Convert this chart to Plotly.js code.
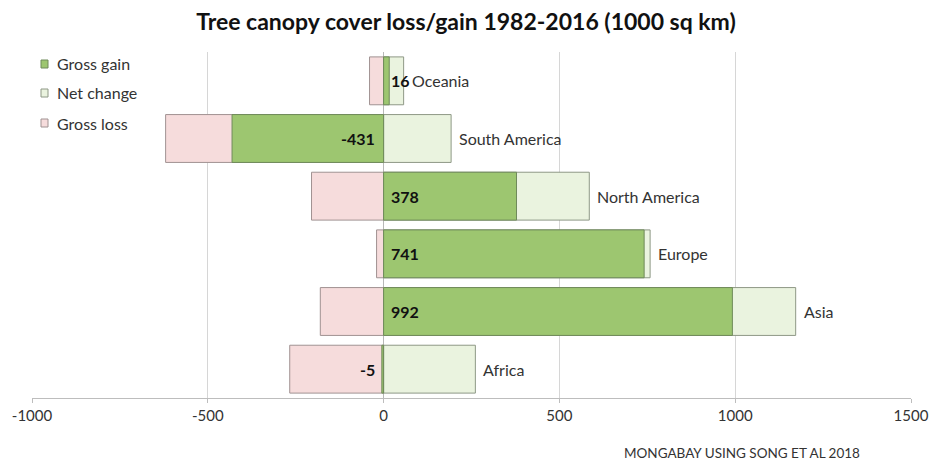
<!DOCTYPE html>
<html>
<head>
<meta charset="utf-8">
<script src="https://cdn.plot.ly/plotly-3.0.1.min.js"></script>
<style>html,body{margin:0;padding:0;background:#fff;}#chart{width:932px;height:461px;}</style>
</head>
<body>
<div id="chart"></div>
<script>
// Data (1000 sq km)
const regions = ["Oceania", "South America", "North America", "Europe", "Asia", "Africa"];
const grossLoss = [-40, -620, -205, -20, -180, -267];
const grossGain = [57, 192, 585, 758, 1172, 261];
const netChange = [16, -431, 378, 741, 992, -5];
// legend labels as printed in the reference (top to bottom)
const legendLabels = ["Gross gain", "Net change", "Gross loss"];
const tickValues = [-1000, -500, 0, 500, 1000, 1500];
const tickLabels = ["-1000", "-500", "0", "500", "1000", "1500"];

const FONT = "Lato, 'Open Sans', sans-serif";
const barW = 0.83;
const W = 932, H = 461;
const M = {l: 32, r: 21, t: 52, b: 63};
const PW = W - M.l - M.r, PH = H - M.t - M.b;
const px2x = p => (p - M.l) / PW;
const py2y = p => (H - M.b - p) / PH;

const colors = {net: "#9dc670", gain: "#eaf3df", loss: "#f6dcdc"};
const lines = {net: "#6f8a5a", gain: "#8e9886", loss: "#a09292"};

const traces = [
  {type: "bar", orientation: "h", y: regions, x: grossLoss, name: legendLabels[2],
   width: barW, marker: {color: colors.loss, line: {color: lines.loss, width: 1}},
   showlegend: false, hoverinfo: "skip"},
  {type: "bar", orientation: "h", y: regions, x: grossGain, name: legendLabels[1],
   width: barW, marker: {color: colors.gain, line: {color: lines.gain, width: 1}},
   showlegend: false, hoverinfo: "skip"},
  {type: "bar", orientation: "h", y: regions, x: netChange, name: legendLabels[0],
   width: barW, marker: {color: colors.net, line: {color: lines.net, width: 1}},
   showlegend: false, hoverinfo: "skip"}
];

const annotations = [];
regions.forEach((r, i) => {
  const v = netChange[i];
  annotations.push({
    xref: "x", yref: "y", x: 0, y: r, text: "<b>" + v + "</b>", showarrow: false,
    xanchor: v >= 0 ? "left" : "right", xshift: v >= 0 ? 5 : -7,
    font: {family: FONT, size: 16, color: "#111"}
  });
  const end = Math.max(grossGain[i], netChange[i]);
  annotations.push({
    xref: "x", yref: "y", x: end, y: r, text: r, showarrow: false,
    xanchor: "left", xshift: 6,
    font: {family: FONT, size: 16, color: "#333"}
  });
});
annotations.push({
  xref: "paper", yref: "paper", x: px2x(862), y: py2y(453), xanchor: "right", yanchor: "middle",
  text: "MONGABAY USING SONG ET AL 2018", showarrow: false,
  font: {family: FONT, size: 13.5, color: "#333"}
});

// manual legend (matches reference placement)
const legendKeys = ["net", "gain", "loss"];
const legendY = [64, 93, 123];
const shapes = [];
legendKeys.forEach((k, i) => {
  shapes.push({type: "rect", xref: "paper", yref: "paper",
    x0: px2x(41), x1: px2x(48), y0: py2y(legendY[i] + 4), y1: py2y(legendY[i] - 4),
    fillcolor: colors[k], line: {color: lines[k], width: 1}});
  annotations.push({xref: "paper", yref: "paper", x: px2x(55), y: py2y(legendY[i]),
    xanchor: "left", yanchor: "middle", text: legendLabels[i], showarrow: false,
    font: {family: FONT, size: 16, color: "#333"}});
});

const layout = {
  width: W, height: H,
  margin: M,
  paper_bgcolor: "#fff", plot_bgcolor: "#fff",
  barmode: "overlay",
  title: {text: "<b>Tree canopy cover loss/gain 1982-2016 (1000 sq km)</b>",
          x: 0.5, xanchor: "center", y: 1 - 22 / H, yanchor: "middle",
          font: {family: FONT, size: 23, color: "#111"}},
  xaxis: {range: [-1000, 1500], tickvals: tickValues, ticktext: tickLabels,
          showgrid: true, gridcolor: "#d6d6d6", gridwidth: 1,
          zeroline: true, zerolinecolor: "#b8b8b8", zerolinewidth: 1,
          showline: true, linecolor: "#bdbdbd", linewidth: 1,
          ticks: "outside", ticklen: 4, tickcolor: "#bdbdbd",
          tickfont: {family: FONT, size: 15, color: "#333"}, fixedrange: true},
  yaxis: {type: "category", categoryorder: "array", categoryarray: regions,
          range: [5.5, -0.5], showticklabels: false, showgrid: false,
          zeroline: false, showline: false, ticks: "", fixedrange: true},
  showlegend: false,
  shapes: shapes,
  annotations: annotations
};

Plotly.newPlot("chart", traces, layout, {displayModeBar: false, staticPlot: true});
</script>
</body>
</html>
